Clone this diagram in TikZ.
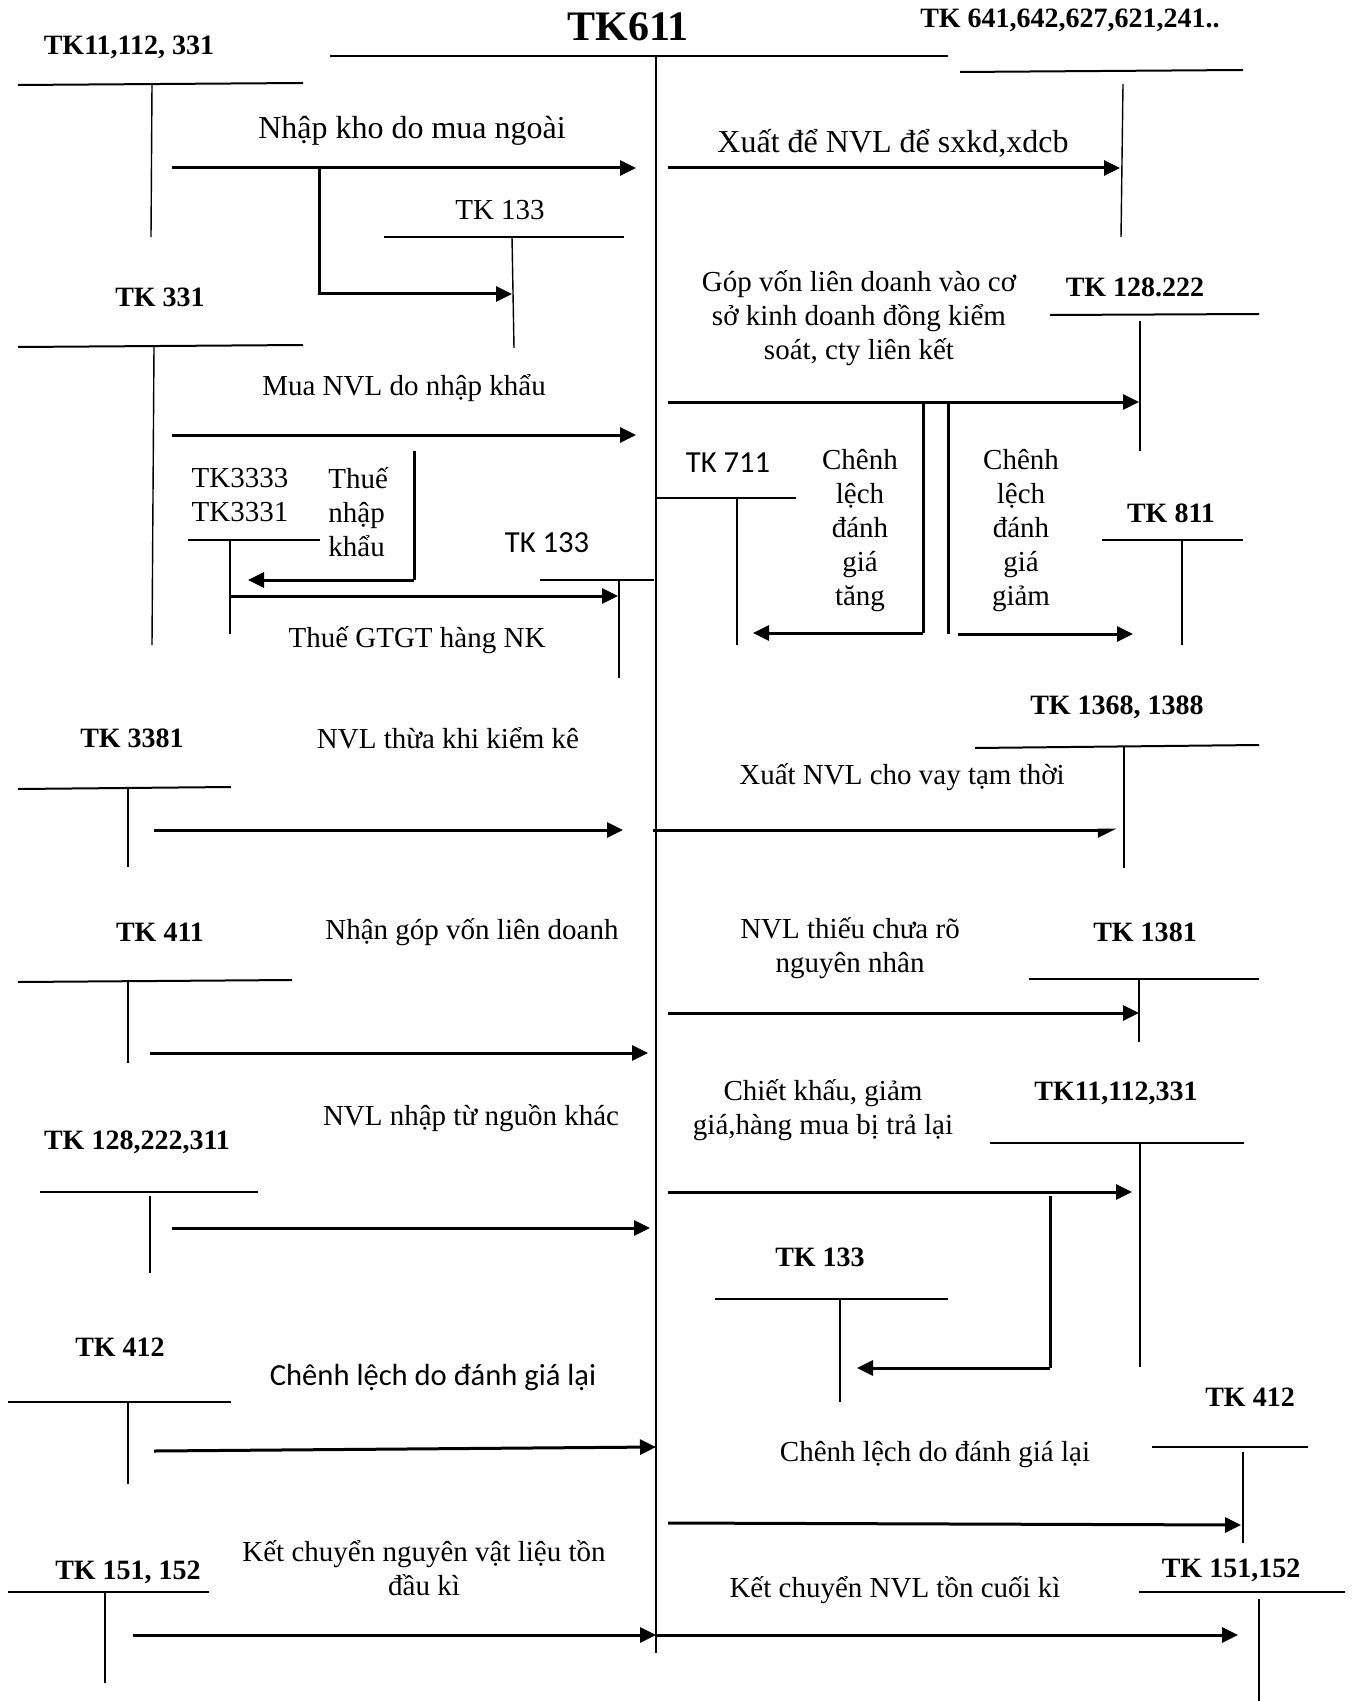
\documentclass[tikz,border=0pt]{standalone}
\usepackage{fontspec}
\setmainfont{Liberation Serif}
\newfontfamily\calfont{Carlito}
\usetikzlibrary{arrows.meta}
\tikzset{
  acct/.style={font=\fontsize{14}{16}\selectfont\bfseries, inner sep=0pt},
  note/.style={font=\fontsize{14.5}{17}\selectfont, align=center, inner sep=0pt},
  bignote/.style={note, font=\fontsize{16}{18}\selectfont},
  calnote/.style={font=\calfont\fontsize{15.3}{17}\selectfont, inner sep=0pt},
  tbar/.style={line width=1pt},
  tleg/.style={line width=0.7pt},
  flow/.style={-{Triangle[length=8pt,width=7.5pt]}, line width=1.5pt},
  halfflow/.style={-{Triangle[length=8pt,width=7.5pt,right]}, line width=1.5pt},
  joint/.style={line width=1.5pt}
}
\begin{document}
\begin{tikzpicture}[x=0.5pt,y=-0.5pt]
  \useasboundingbox (0,0) rectangle (1351,1701);

  % main account
  \node[acct, font=\fontsize{21}{24}\selectfont\bfseries] (tk611) at (628,27) {TK611};
  \draw[tbar] (330,56) -- (948,56);
  \draw[tbar] (656,56) -- (656,1653);

  % ---- left side (debit) ----
  \node[acct] (tk111) at (129,47) {TK11,112, 331};
  \draw[tbar] (18,85) -- (303,83);
  \draw[tleg] (152,85) -- (151,237);
  \node[bignote] (muangoai) at (412,131) {Nhập kho do mua ngoài};
  \draw[flow] (172,168) -- (636,168);
  \draw[flow] (319,168) |- (512,294);

  \node[note] (tk133a) at (500,210) {TK 133};
  \draw[tbar] (384,237) -- (624,237);
  \draw[tleg] (512,237) -- (514,348);

  \node[acct] (tk331) at (160,297) {TK 331};
  \draw[tbar] (18,347) -- (303,345);
  \draw[tleg] (154,347) -- (152,645);
  \node[note] (nhapkhau) at (404,388) {Mua NVL do nhập khẩu};
  \draw[flow] (172,435) -- (636,435);

  \node[note, align=left] (tk3333) at (240,495) {TK3333\\TK3331};
  \draw[tbar] (188,540) -- (320,540);
  \draw[tleg] (230,540) -- (230,634);
  \node[note, align=left, anchor=west] (thuenk) at (328,512) {Thuế\\nhập\\khẩu};
  \draw[joint] (414,451) -- (414,580);
  \draw[flow] (414,580) -- (248,580);
  \draw[flow] (230,596) -- (618,596);
  \node[note] (gtgt) at (417,640) {Thuế GTGT hàng NK};

  \node[calnote] (tk133b) at (547,543) {TK 133};
  \draw[tbar] (540,580) -- (654,580);
  \draw[tleg] (619,580) -- (619,678);

  \node[acct] (tk3381) at (132,738) {TK 3381};
  \draw[tbar] (18,789) -- (231,787);
  \draw[tleg] (128,788) -- (128,867);
  \node[note] (thua) at (448,738) {NVL thừa khi kiểm kê};
  \draw[flow] (154,830) -- (623,830);

  \node[acct] (tk411) at (160,932) {TK 411};
  \draw[tbar] (18,982) -- (292,980);
  \draw[tleg] (128,981) -- (128,1063);
  \node[note] (gopvon) at (472,932) {Nhận góp vốn liên doanh};
  \draw[flow] (150,1053) -- (648,1053);

  \node[acct] (tk128) at (137,1142) {TK 128,222,311};
  \draw[tbar] (40,1192) -- (258,1192);
  \draw[tleg] (150,1196) -- (150,1273);
  \node[note] (khac) at (471,1118) {NVL nhập từ nguồn khác};
  \draw[flow] (172,1228) -- (650,1228);

  \node[acct] (tk412a) at (120,1347) {TK 412};
  \draw[tbar] (8,1402) -- (231,1402);
  \draw[tleg] (128,1402) -- (128,1484);
  \node[calnote] (danhgiaa) at (433,1377) {Chênh lệch do đánh giá lại};
  \draw[flow] (154,1451) -- (656,1447);

  \node[acct] (tk151a) at (128,1572) {TK 151, 152};
  \draw[tbar] (8,1592) -- (209,1592);
  \draw[tleg] (105,1592) -- (105,1683);
  \node[note] (daukai) at (424,1568) {Kết chuyển nguyên vật liệu tồn\\đầu kì};
  \draw[flow] (133,1635) -- (656,1635);

  % ---- right side (credit) ----
  \node[acct] (tk641) at (1070,20) {TK 641,642,627,621,241..};
  \draw[tbar] (960,72) -- (1243,70);
  \draw[tleg] (1123,84) -- (1121,237);
  \node[bignote] (sxkd) at (893,143) {Xuất để NVL để sxkd,xdcb};
  \draw[flow] (668,168) -- (1120,168);

  \node[acct] (tk128r) at (1135,287) {TK 128.222};
  \draw[tbar] (1050,315) -- (1259,314);
  \draw[tleg] (1140,321) -- (1140,451);
  \node[note] (lienket) at (859,318) {Góp vốn liên doanh vào cơ\\sở kinh doanh đồng kiểm\\soát, cty liên kết};
  \draw[flow] (668,402) -- (1139,402);
  \draw[joint] (923,402) -- (923,633);
  \draw[flow] (923,633) -- (753,633);
  \draw[joint] (948,402) -- (948,634);
  \draw[flow] (958,634) -- (1133,634);

  \node[calnote] (tk711) at (728,463) {TK 711};
  \draw[tbar] (656,498) -- (796,498);
  \draw[tleg] (737,498) -- (737,645);
  \node[note] (tang) at (860,531) {Chênh\\lệch\\đánh\\giá\\tăng};
  \node[note] (giam) at (1021,531) {Chênh\\lệch\\đánh\\giá\\giảm};

  \node[acct] (tk811) at (1171,513) {TK 811};
  \draw[tbar] (1102,540) -- (1243,540);
  \draw[tleg] (1182,540) -- (1182,645);

  \node[acct] (tk1368) at (1117,707) {TK 1368, 1388};
  \draw[tbar] (975,748) -- (1259,745);
  \draw[tleg] (1124,746) -- (1124,868);
  \node[note] (vay) at (902,777) {Xuất NVL cho vay tạm thời};
  \draw[halfflow] (653,830) -- (1117,830);

  \node[acct] (tk1381) at (1145,932) {TK 1381};
  \draw[tbar] (1029,979) -- (1259,979);
  \draw[tleg] (1139,979) -- (1139,1042);
  \node[note] (thieu) at (850,948) {NVL thiếu chưa rõ\\nguyên nhân};
  \draw[flow] (668,1013) -- (1139,1013);

  \node[acct] (tk111r) at (1116,1093) {TK11,112,331};
  \draw[tbar] (990,1143) -- (1244,1143);
  \draw[tleg] (1140,1143) -- (1140,1367);
  \node[note] (tralai) at (823,1110) {Chiết khấu, giảm\\giá,hàng mua bị trả lại};
  \draw[flow] (668,1192) -- (1132,1192);
  \draw[joint] (1050,1196) -- (1050,1368);
  \draw[flow] (1050,1368) -- (857,1368);

  \node[acct] (tk133c) at (820,1257) {TK 133};
  \draw[tbar] (715,1299) -- (948,1299);
  \draw[tleg] (840,1299) -- (840,1402);

  \node[acct] (tk412b) at (1250,1397) {TK 412};
  \draw[tbar] (1152,1447) -- (1308,1447);
  \draw[tleg] (1243,1452) -- (1243,1543);
  \node[note] (danhgiab) at (935,1455) {Chênh lệch do đánh giá lại};
  \draw[flow] (668,1523) -- (1241,1525);

  \node[acct] (tk151b) at (1231,1570) {TK 151,152};
  \draw[tbar] (1139,1592) -- (1345,1592);
  \draw[tleg] (1259,1599) -- (1259,1701);
  \node[note] (cuoiki) at (895,1590) {Kết chuyển NVL tồn cuối kì};
  \draw[flow] (656,1635) -- (1238,1635);
\end{tikzpicture}
\end{document}
